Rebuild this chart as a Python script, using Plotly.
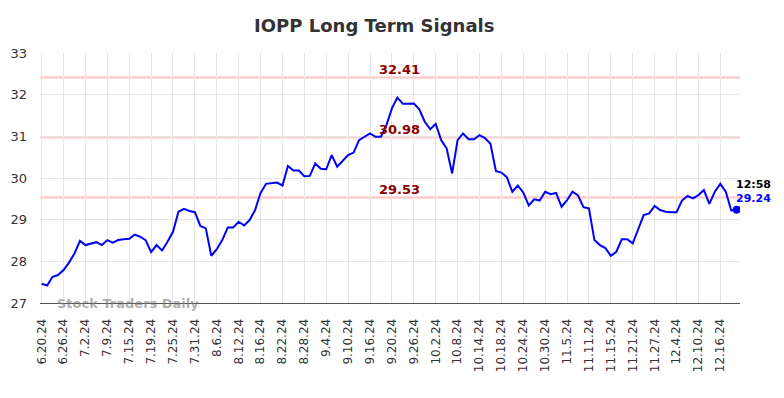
import plotly.graph_objects as go

values = [
    27.46, 27.42, 27.63, 27.67, 27.79, 27.97, 28.19, 28.49, 28.39, 28.43,
    28.46, 28.39, 28.51, 28.45, 28.51, 28.53, 28.54, 28.64, 28.59, 28.51,
    28.22, 28.39, 28.26, 28.47, 28.71, 29.19, 29.26, 29.21, 29.18, 28.85,
    28.79, 28.13, 28.29, 28.51, 28.81, 28.81, 28.95, 28.86, 28.99, 29.23,
    29.64, 29.86, 29.88, 29.89, 29.82, 30.29, 30.18, 30.18, 30.04, 30.05,
    30.35, 30.22, 30.21, 30.55, 30.27, 30.42, 30.55, 30.61, 30.91, 30.99,
    31.07, 30.99, 30.99, 31.27, 31.67, 31.93, 31.78, 31.78, 31.79, 31.65,
    31.35, 31.17, 31.30, 30.91, 30.71, 30.11, 30.91, 31.07, 30.93, 30.93,
    31.03, 30.96, 30.82, 30.17, 30.13, 30.02, 29.67, 29.82, 29.65, 29.34,
    29.49, 29.46, 29.67, 29.61, 29.64, 29.31, 29.47, 29.67, 29.58, 29.30,
    29.27, 28.51, 28.39, 28.32, 28.13, 28.23, 28.53, 28.53, 28.43, 28.77,
    29.11, 29.15, 29.33, 29.23, 29.19, 29.18, 29.18, 29.46, 29.57, 29.51,
    29.59, 29.71, 29.38, 29.67, 29.86, 29.67, 29.22, 29.24,
]

tick_labels = [
    "6.20.24", "6.26.24", "7.2.24", "7.9.24", "7.15.24", "7.19.24", "7.25.24",
    "7.31.24", "8.6.24", "8.12.24", "8.16.24", "8.22.24", "8.28.24", "9.4.24",
    "9.10.24", "9.16.24", "9.20.24", "9.26.24", "10.2.24", "10.8.24",
    "10.14.24", "10.18.24", "10.24.24", "10.30.24", "11.5.24", "11.11.24",
    "11.15.24", "11.21.24", "11.27.24", "12.4.24", "12.10.24", "12.16.24",
]
tick_step = 4

levels = [32.41, 30.98, 29.53]
last_time = "12:58"

x = list(range(len(values)))
tickvals = [i * tick_step for i in range(len(tick_labels))]

fig = go.Figure()

for lv in levels:
    fig.add_shape(type="line", xref="paper", x0=0, x1=1, y0=lv, y1=lv,
                  line=dict(color="#ffcccc", width=2.5), layer="below")
    fig.add_annotation(x=0.513, xref="paper", y=lv, yref="y", text=f"<b>{lv:.2f}</b>",
                       showarrow=False, yshift=8,
                       font=dict(family="DejaVu Sans", size=13, color="#8b0000"))

fig.add_trace(go.Scatter(x=x, y=values, mode="lines",
                         line=dict(color="#0000ff", width=2), hoverinfo="skip"))
fig.add_trace(go.Scatter(x=[x[-1]], y=[values[-1]], mode="markers",
                         marker=dict(color="#0000ff", size=8), hoverinfo="skip"))

fig.add_annotation(x=x[-1], y=values[-1], text=f"<b>{last_time}</b>", showarrow=False,
                   xanchor="left", xshift=-3, yshift=25,
                   font=dict(family="DejaVu Sans", size=11, color="#000000"))
fig.add_annotation(x=x[-1], y=values[-1], text=f"<b>{values[-1]:.2f}</b>", showarrow=False,
                   xanchor="left", xshift=-3, yshift=11,
                   font=dict(family="DejaVu Sans", size=11, color="#0000ff"))

fig.add_annotation(x=0.021, xref="paper", y=27, yref="y", text="<b>Stock Traders Daily</b>",
                   showarrow=False, xanchor="left", yanchor="middle",
                   font=dict(family="DejaVu Sans", size=13, color="rgba(120,120,120,0.6)"))

fig.update_layout(
    width=776, height=382,
    margin=dict(l=32, r=44, t=45, b=87, autoexpand=False),
    paper_bgcolor="white", plot_bgcolor="white",
    showlegend=False,
    title=dict(text="<b>IOPP Long Term Signals</b>", x=0.472, xanchor="center",
               y=0.953, yanchor="middle",
               font=dict(family="DejaVu Sans", size=18, color="#333333")),
    xaxis=dict(range=[-0.3, 127.6], tickmode="array", tickvals=tickvals, ticktext=tick_labels,
               tickangle=-90, showgrid=True, gridcolor="#e6e6e6", gridwidth=1,
               zeroline=False, showline=True, linecolor="#555555", linewidth=1,
               automargin=False, ticklabelstandoff=10,
               tickfont=dict(family="DejaVu Sans", size=12, color="#333333"), ticks=""),
    yaxis=dict(range=[27, 33], tickvals=[27, 28, 29, 30, 31, 32, 33], showgrid=True,
               gridcolor="#e6e6e6", gridwidth=1, zeroline=False, automargin=False,
               ticklabelstandoff=12,
               tickfont=dict(family="DejaVu Sans", size=13, color="#333333"), ticks=""),
)

fig.write_html("out.html")
